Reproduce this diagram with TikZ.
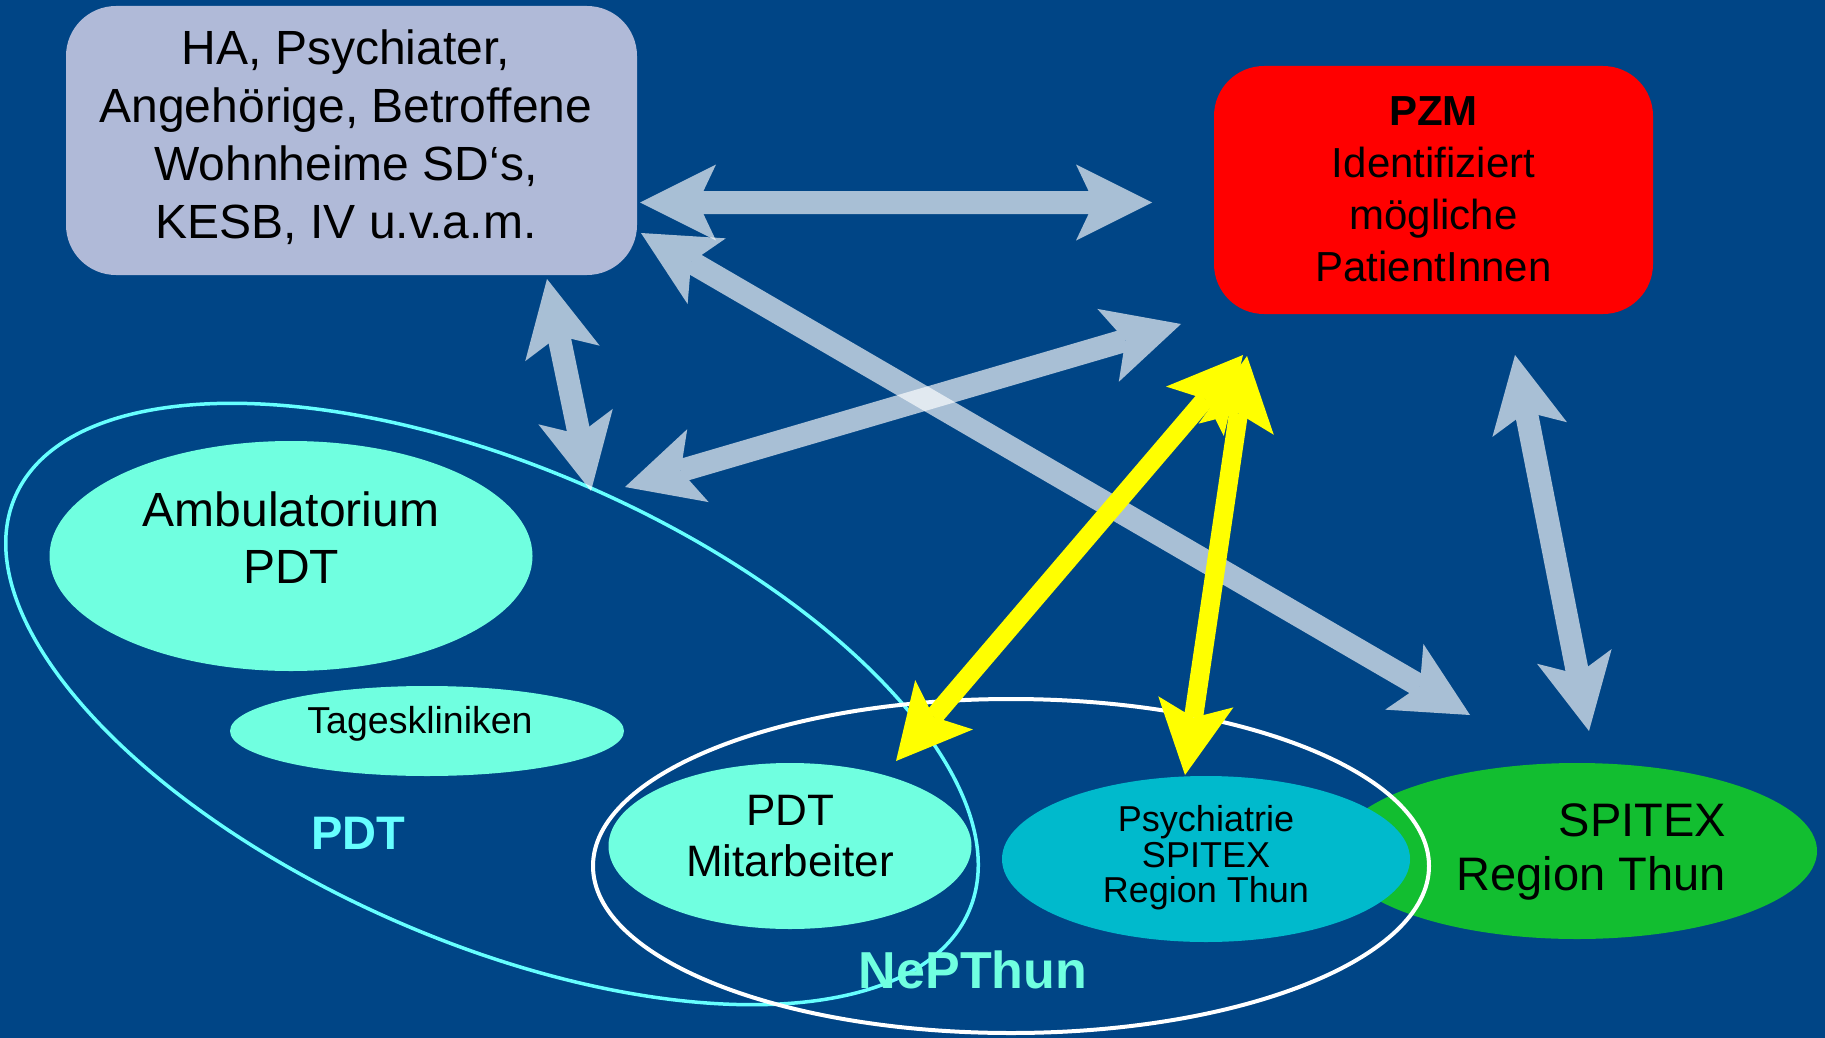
\documentclass[tikz,border=0pt]{standalone}
\usepackage{fontspec}
\setmainfont{Liberation Sans}
\usetikzlibrary{shapes.geometric,arrows.meta}
\definecolor{bg}{RGB}{0,69,134}
\definecolor{boxc}{RGB}{176,186,216}
\definecolor{mint}{RGB}{112,255,224}
\definecolor{cyanE}{RGB}{0,186,204}
\definecolor{greenE}{RGB}{18,190,48}
\definecolor{pdtline}{RGB}{102,255,255}
\definecolor{yel}{RGB}{255,255,0}
\tikzset{
  lighttip/.tip={Stealth[length=76pt,width=76pt,inset=18pt,line width=0pt]},
  yeltip/.tip={Stealth[length=74pt,width=76pt,inset=16pt,line width=0pt]}
}
\begin{document}
\begin{tikzpicture}[x=1pt,y=-1pt,
  ell/.style={ellipse, draw=none, inner sep=0pt},
  rbox/.style={draw=none, rounded corners=50pt, inner sep=0pt},
  txt/.style={align=center, text=black, inner sep=0pt},
  lightarrow/.style={draw=white, line width=23pt, arrows={lighttip-lighttip}},
  lightgroup/.style={transparency group, opacity=0.66},
  yelarrow/.style={draw=yel, line width=19pt, arrows={yeltip-yeltip}}]
\fill[bg] (0,0) rectangle (1825,1038);
\useasboundingbox (0,0) rectangle (1825,1038);

% boxes
\node[rbox, fill=boxc, minimum width=571pt, minimum height=269pt] (top) at (351.5,140.5) {};
\node[txt, font=\fontsize{48}{58}\selectfont] (toptxt) at (346,137) {HA, Psychiater,\\Angehörige, Betroffene\\Wohnheime SD‘s,\\KESB, IV u.v.a.m.};
\node[rbox, fill=red, minimum width=439pt, minimum height=248pt] (pzm) at (1433.5,190) {};
\node[txt, font=\fontsize{42}{52}\selectfont] (pzmtxt) at (1433.5,189) {\textbf{PZM}\\Identifiziert\\mögliche\\PatientInnen};

% ellipses
\node[ell, fill=greenE, minimum width=480pt, minimum height=176pt] (spx) at (1577,851) {};
\node[ell, fill=cyanE, minimum width=408pt, minimum height=166pt] (pspx) at (1206,859) {};
\node[ell, fill=mint, minimum width=483pt, minimum height=230pt] (amb) at (291,556) {};
\node[ell, fill=mint, minimum width=394pt, minimum height=90pt] (tag) at (427,731) {};
\node[ell, fill=mint, minimum width=363pt, minimum height=166pt] (mit) at (790,846) {};

\node[txt, font=\fontsize{48}{57}\selectfont] (ambtxt) at (291,538) {Ambulatorium\\PDT};
\node[txt, font=\fontsize{37.5}{42}\selectfont] (tagtxt) at (420,724) {Tageskliniken};
\node[txt, font=\fontsize{44}{51}\selectfont] (mittxt) at (790,836) {PDT\\Mitarbeiter};
\node[txt, font=\fontsize{36}{35.5}\selectfont] (psptxt) at (1206,858) {Psychiatrie\\SPITEX\\Region Thun};
\node[txt, align=right, anchor=east, font=\fontsize{47}{54}\selectfont] (spxtxt) at (1726,852) {SPITEX\\Region Thun};

% group outlines
\draw[pdtline, line width=3.5pt, rotate around={-23.5:(492,704)}] (492,704) ellipse [x radius=520, y radius=237.5];
\draw[white, line width=4pt] (1011,866) ellipse [x radius=418, y radius=167];
\node[text=pdtline, font=\fontsize{47}{50}\selectfont\bfseries] (pdtlab) at (358,833) {PDT};
\node[text=mint, font=\fontsize{52}{56}\selectfont\bfseries] (neplab) at (973,970) {NePThun};

% arrow end points
\coordinate (a1s) at (640,202.5);  \coordinate (a1e) at (1152,202.5);
\coordinate (a2s) at (641,233);    \coordinate (a2e) at (1470,715);
\coordinate (a3s) at (1181,324);   \coordinate (a3e) at (625,487);
\coordinate (a4s) at (547,279);    \coordinate (a4e) at (591,491);
\coordinate (a5s) at (1515,355);   \coordinate (a5e) at (1589,731);
\coordinate (y6s) at (1243,355);   \coordinate (y6e) at (896,761);
\coordinate (y7s) at (1247,356);   \coordinate (y7e) at (1185,775);

\begin{scope}[lightgroup]\draw[lightarrow] (a1s) -- (a1e);\end{scope}
\begin{scope}[lightgroup]\draw[lightarrow] (a2s) -- (a2e);\end{scope}
\begin{scope}[lightgroup]\draw[lightarrow] (a3s) -- (a3e);\end{scope}
\begin{scope}[lightgroup]\draw[lightarrow] (a4s) -- (a4e);\end{scope}
\begin{scope}[lightgroup]\draw[lightarrow] (a5s) -- (a5e);\end{scope}
\draw[yelarrow] (y6s) -- (y6e);
\draw[yelarrow] (y7s) -- (y7e);
\end{tikzpicture}
\end{document}
